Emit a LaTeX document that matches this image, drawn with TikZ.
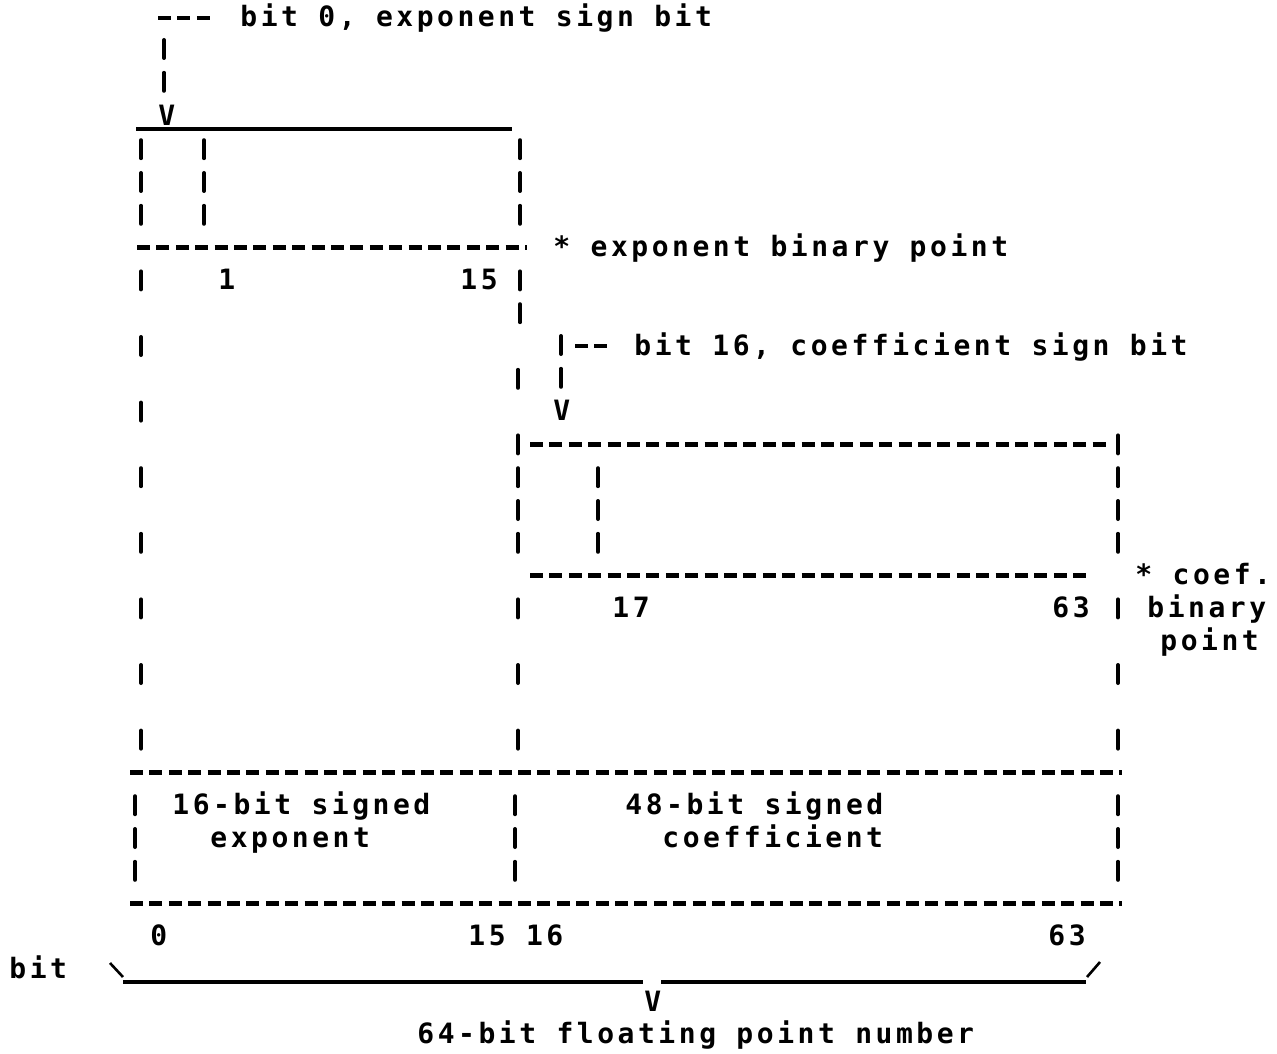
\documentclass[tikz,border=0pt]{standalone}
\usepackage{fontspec}
\usepackage{tikz}
\newfontfamily\printfont{DejaVu Sans Mono}[LetterSpace=12.6]
\newcommand{\vmarks}[2]{%
  \foreach \rw in {#2} {\draw [vmark] (#1,{18+32.8*\rw-9}) -- (#1,{18+32.8*\rw+9});}}

\begin{document}
\begin{tikzpicture}[
  x=0.5pt, y=-0.5pt,
  txt/.style={inner sep=0pt, anchor=west, text height=9pt, text depth=0pt, font={\printfont\bfseries\fontsize{14pt}{16pt}\selectfont}},
  hdash/.style={line width=2.2pt, dash pattern=on 6.5pt off 3.2pt},
  vmark/.style={line width=2pt, line cap=round},
  vdash/.style={line width=2pt, line cap=round, dash pattern=on 9pt off 7.4pt},
  uline/.style={line width=1.6pt},
  slant/.style={line width=1.3pt}
]
\path [use as bounding box, fill=white] (0,0) rectangle (1277,1053);

\node (expsign) [txt] at (240,18) {bit 0, exponent sign bit};
\node (vexp) [txt] at (158,116.4) {V};
\node (one) [txt] at (218,280.4) {1};
\node (fifteen) [txt] at (460,280.4) {15};
\node (expbp) [txt] at (553,247.6) {* exponent binary point};
\node (coefsign) [txt] at (634,346) {bit 16, coefficient sign bit};
\node (vcoef) [txt] at (553,411.6) {V};
\node (seventeen) [txt] at (612,608.4) {17};
\node (sixtythree) [txt] at (1052,608.4) {63};
\node (coefbp) [txt] at (1135,575.6) {* coef.};
\node (binary) [txt] at (1147,608.4) {binary};
\node (point) [txt] at (1160,641.2) {point};
\node (expfield) [txt] at (172,805.2) {16-bit signed};
\node (expname) [txt] at (210,838) {exponent};
\node (coeffield) [txt] at (625,805.2) {48-bit signed};
\node (coefname) [txt] at (662,838) {coefficient};
\node (bitzero) [txt] at (150,936.4) {0};
\node (bitmid) [txt] at (468,936.4) {15 16};
\node (bitlast) [txt] at (1048,936.4) {63};
\node (bitword) [txt] at (9,969.2) {bit};
\node (vall) [txt] at (644,1002) {V};
\node (whole) [txt] at (417,1034.8) {64-bit floating point number};

\coordinate (eTL) at (136,129);
\coordinate (eTR) at (512,129);
\coordinate (eBL) at (137,247.6);
\coordinate (eBR) at (527,247.6);
\coordinate (cTL) at (530,444.4);
\coordinate (cTR) at (1108,444.4);
\coordinate (cBL) at (530,575.6);
\coordinate (cBR) at (1088,575.6);
\coordinate (wTL) at (130,772.4);
\coordinate (wTR) at (1122,772.4);
\coordinate (wBL) at (130,903.6);
\coordinate (wBR) at (1122,903.6);

\draw [uline] (eTL) -- (eTR);
\draw [hdash] (eBL) -- (eBR);
\draw [hdash] (cTL) -- (cTR);
\draw [hdash] (cBL) -- (cBR);
\draw [hdash] (wTL) -- (wTR);
\draw [hdash] (wBL) -- (wBR);

\vmarks{141}{4,5,6,8,10,12,14,16,18,20,22}
\vmarks{135}{24,25,26}
\vmarks{204}{4,5,6}
\vmarks{520}{4,5,6,8,9}
\vmarks{518}{11,13,14,15,16,18,20,22}
\vmarks{515}{24,25,26}
\vmarks{598}{14,15,16}
\vmarks{1118}{13,14,15,16,18,20,22,24,25,26}

\coordinate (cexp) at (164,18);
\draw [hdash] ([xshift=-3pt]cexp) -- ([xshift=-13pt]expsign.west);
\draw [vdash, shorten <=11pt, shorten >=2pt] (cexp) -- (cexp |- vexp.north);

\coordinate (ccoef) at (561,346);
\draw [hdash, shorten <=7pt] (ccoef) -- ([xshift=-11pt]coefsign.west);
\draw [vdash, shorten >=2pt] ([yshift=5pt]ccoef) -- (ccoef |- vcoef.north);

\coordinate (bL) at (123,982);
\coordinate (gapL) at (643,982);
\coordinate (gapR) at (661,982);
\coordinate (bR) at (1086,982);
\draw [slant] ([shift={(-13,-19)}]bL) -- ([shift={(0,-5)}]bL);
\draw [uline] (bL) -- (gapL);
\draw [uline] (gapR) -- (bR);
\draw [slant] ([shift={(1,-5)}]bR) -- ([shift={(14,-20)}]bR);

\end{tikzpicture}
\end{document}
